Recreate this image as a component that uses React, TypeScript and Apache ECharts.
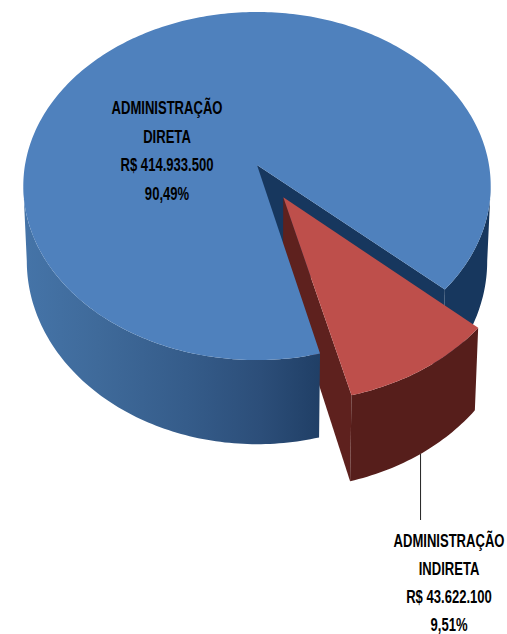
import React, { useEffect, useRef } from "react";
import * as echarts from "echarts";

const categories = ["ADMINISTRAÇÃO DIRETA", "ADMINISTRAÇÃO INDIRETA"];
const values = [414933500, 43622100];
const valueLabels = ["R$ 414.933.500", "R$ 43.622.100"];
const percentLabels = ["90,49%", "9,51%"];

const DEG = Math.PI / 180;
const total = values.reduce((a, b) => a + b, 0);
const redSweep = (values[1] / total) * 360;
const GAP_MID = 59;
const redFrom = GAP_MID - redSweep / 2;
const redTo = GAP_MID + redSweep / 2;

// Perspective projection of the pie
const CX = 257, CY = 165, RX = 232, RY = 171.5, P = 0.1207, DEPTH = 74, BOTTOM_SCALE = 0.985, EXPLODE = 0.215;
// Angle at which the rim of the projected disc is vertical (silhouette tangent)
const TANGENT = Math.asin(P) / DEG;

function project(X: number, Y: number, bottom: boolean): number[] {
  const w = 1 - P * Y;
  const sx = CX + ((bottom ? BOTTOM_SCALE : 1) * RX * X) / w;
  const sy = CY + (RY * Y) / w + (bottom ? DEPTH / w : 0);
  return [sx, sy];
}

function arc(from: number, to: number, off: number[], bottom: boolean): number[][] {
  const pts: number[][] = [];
  const n = Math.max(8, Math.ceil(Math.abs(to - from)));
  for (let i = 0; i <= n; i++) {
    const t = (from + ((to - from) * i) / n) * DEG;
    pts.push(project(off[0] + Math.cos(t), off[1] + Math.sin(t), bottom));
  }
  return pts;
}

const poly = (points: number[][], fill: any, z2: number) => ({
  type: "polygon",
  z2,
  silent: true,
  shape: { points },
  style: { fill, stroke: null },
});

const sideGradient = (stops: [number, string][]) =>
  new echarts.graphic.LinearGradient(
    0, 0, 1, 0,
    stops.map(([offset, color]) => ({ offset, color }))
  );

const textBlock = (lines: string[], x: number, y: number, step: number) =>
  lines.map((text, i) => ({
    type: "text",
    z2: 10,
    silent: true,
    x,
    y: y + i * step,
    scaleX: 0.725,
    style: {
      text,
      x: 0,
      y: 0,
      align: "center",
      verticalAlign: "middle",
      fill: "#000000",
      font: 'bold 18px "Liberation Sans", Arial, sans-serif',
    },
  }));

function renderItem(params: any, api: any) {
  const idx = params.dataIndex;
  const share = (api.value(0) / total) * 360;
  const words = categories[idx].split(" ");
  const lines = [words[0], words[1], valueLabels[idx], percentLabels[idx]];

  if (idx === 0) {
    const start = GAP_MID + (360 - share) / 2;
    const end = start + share;
    const o = [0, 0];
    const apexT = project(0, 0, false);
    const apexB = project(0, 0, true);
    const cornerT = project(Math.cos(end * DEG), Math.sin(end * DEG), false);
    const cornerB = project(Math.cos(end * DEG), Math.sin(end * DEG), true);
    const navy = "#17375E";
    const children: any[] = [
      poly([apexT, cornerT, cornerB, apexB], navy, 0),
      poly([...arc(360 + TANGENT, end, o, false), ...arc(end, 360 + TANGENT, o, true)], navy, 0),
      poly(
        [...arc(start, 180 - TANGENT, o, false), ...arc(180 - TANGENT, start, o, true)],
        sideGradient([
          [0, "#4574A8"],
          [0.25, "#3F6A9A"],
          [0.55, "#355C8A"],
          [0.8, "#2C4E79"],
          [1, "#203F66"],
        ]),
        3
      ),
      poly([apexT, ...arc(start, end, o, false)], "#4F81BD", 4),
      ...textBlock(lines, 167, 108, 28.5),
    ];
    return { type: "group", children };
  }

  const mid = GAP_MID * DEG;
  const o = [EXPLODE * Math.cos(mid), EXPLODE * Math.sin(mid)];
  const t1 = redTo * DEG;
  const apexT = project(o[0], o[1], false);
  const apexB = project(o[0], o[1], true);
  const frontT = project(o[0] + Math.cos(t1), o[1] + Math.sin(t1), false);
  const frontB = project(o[0] + Math.cos(t1), o[1] + Math.sin(t1), true);
  const leaderStart = project(o[0] + Math.cos(mid), o[1] + Math.sin(mid), true);
  return {
    type: "group",
    children: [
      {
        type: "line",
        z2: 1,
        silent: true,
        shape: { x1: leaderStart[0], y1: leaderStart[1], x2: leaderStart[0], y2: 520 },
        style: { stroke: "#222222", lineWidth: 1 },
      },
      poly([apexT, frontT, frontB, apexB], "#5E211E", 2),
      poly(
        [...arc(redFrom, redTo, o, false), ...arc(redTo, redFrom, o, true)],
        "#561E1B",
        2
      ),
      poly([apexT, ...arc(redFrom, redTo, o, false)], "#BE4F4B", 2),
      ...textBlock(lines, 449, 541, 28),
    ],
  };
}

export default function App() {
  const ref = useRef<HTMLDivElement>(null);
  useEffect(() => {
    document.body.style.margin = "0";
    const chart = echarts.init(ref.current!, undefined, { renderer: "svg" });
    chart.setOption({
      animation: false,
      backgroundColor: "#ffffff",
      series: [
        {
          type: "custom",
          coordinateSystem: "none",
          renderItem,
          silent: true,
          clip: false,
          data: values.map((v, i) => ({ name: categories[i], value: [v] })),
        },
      ],
    });
    return () => chart.dispose();
  }, []);
  return <div ref={ref} style={{ width: 507, height: 634, overflow: "hidden" }} />;
}
